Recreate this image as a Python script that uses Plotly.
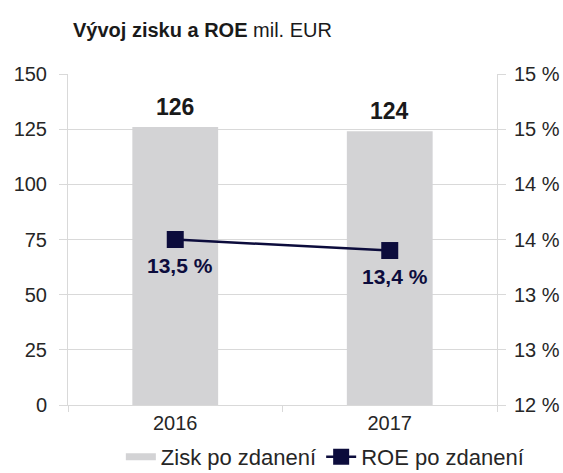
import plotly.graph_objects as go

years = ["2016", "2017"]
zisk = [126, 124]
roe = [13.5, 13.4]
right_tickvals = [12, 12.5, 13, 13.5, 14, 14.5, 15]
right_ticktext = ["12 %", "13 %", "13 %", "14 %", "14 %", "15 %", "15 %"]
left_tickvals = [0, 25, 50, 75, 100, 125, 150]

FONT = "Liberation Sans, Arial, sans-serif"
NAVY = "#0c0c3c"
GRID = "#d9d9d9"
BAR = "#d3d3d5"
TXT = "#262626"

fig = go.Figure()
fig.add_trace(go.Bar(
    x=years, y=zisk, name="Zisk po zdanení",
    marker=dict(color=BAR, line=dict(width=0)),
    width=0.4, yaxis="y", showlegend=False,
))
# legend-only swatch for the bars (wide, thin grey band as in the reference)
fig.add_trace(go.Scatter(
    x=[None], y=[None], name="Zisk po zdanení", mode="lines",
    line=dict(color=BAR, width=7), showlegend=True,
))
fig.add_trace(go.Scatter(
    x=years, y=roe, name="ROE po zdanení", yaxis="y2",
    mode="lines+markers",
    line=dict(color=NAVY, width=2.5),
    marker=dict(symbol="square", size=17, color=NAVY),
))

annotations = []
for i, v in enumerate(zisk):
    annotations.append(dict(
        x=i, y=v, xref="x", yref="y", text=f"<b>{v}</b>", showarrow=False,
        yanchor="bottom", yshift=5, font=dict(family=FONT, size=23, color="#1a1a1a"),
    ))
for i, v in enumerate(roe):
    annotations.append(dict(
        x=i, y=v, xref="x", yref="y2", text="<b>" + f"{v:.1f}".replace(".", ",") + " %</b>",
        showarrow=False, yanchor="top", yshift=-12, xshift=5,
        font=dict(family=FONT, size=21, color=NAVY),
    ))
annotations.append(dict(
    x=0.008, y=1.0, xref="paper", yref="paper", yshift=44,
    text="<b>Vývoj zisku a ROE</b> mil. EUR", showarrow=False,
    xanchor="left", yanchor="middle", font=dict(family=FONT, size=20, color="#1a1a1a"),
))

fig.update_layout(
    width=563, height=473,
    margin=dict(l=68, r=66, t=74, b=68, autoexpand=False),
    paper_bgcolor="white", plot_bgcolor="white",
    font=dict(family=FONT, size=20, color=TXT),
    showlegend=True,
    legend=dict(orientation="h", xref="container", yref="container",
                x=0.577, xanchor="center", y=0.034, yanchor="middle",
                font=dict(family=FONT, size=22, color=TXT), traceorder="normal",
                itemwidth=30, tracegroupgap=0),
    xaxis=dict(
        type="category", categoryorder="array", categoryarray=years,
        range=[-0.5, 1.5], autorange=False, automargin=False,
        showline=True, linecolor=GRID, linewidth=1,
        ticks="outside", ticklen=6, tickcolor=GRID, tickson="boundaries",
        tickfont=dict(size=20, color=TXT), tickangle=0,
        showgrid=False,
    ),
    yaxis=dict(
        range=[0, 150], tickvals=left_tickvals, showgrid=True, gridcolor=GRID, gridwidth=1,
        showline=True, linecolor=GRID, ticks="outside", ticklen=8, tickcolor=GRID,
        tickfont=dict(size=20, color=TXT), zeroline=False, automargin=False,
        ticklabelstandoff=8,
    ),
    yaxis2=dict(
        range=[12, 15], tickvals=right_tickvals, ticktext=right_ticktext,
        overlaying="y", side="right", showgrid=False,
        showline=True, linecolor=GRID, ticks="outside", ticklen=8, tickcolor=GRID,
        tickfont=dict(size=20, color=TXT), zeroline=False, automargin=False,
        ticklabelstandoff=4,
    ),
    annotations=annotations,
)

fig.write_html(
    "out.html",
    config={"displayModeBar": False},
    post_script="document.body.style.margin='0';document.body.style.overflow='hidden';",
)
